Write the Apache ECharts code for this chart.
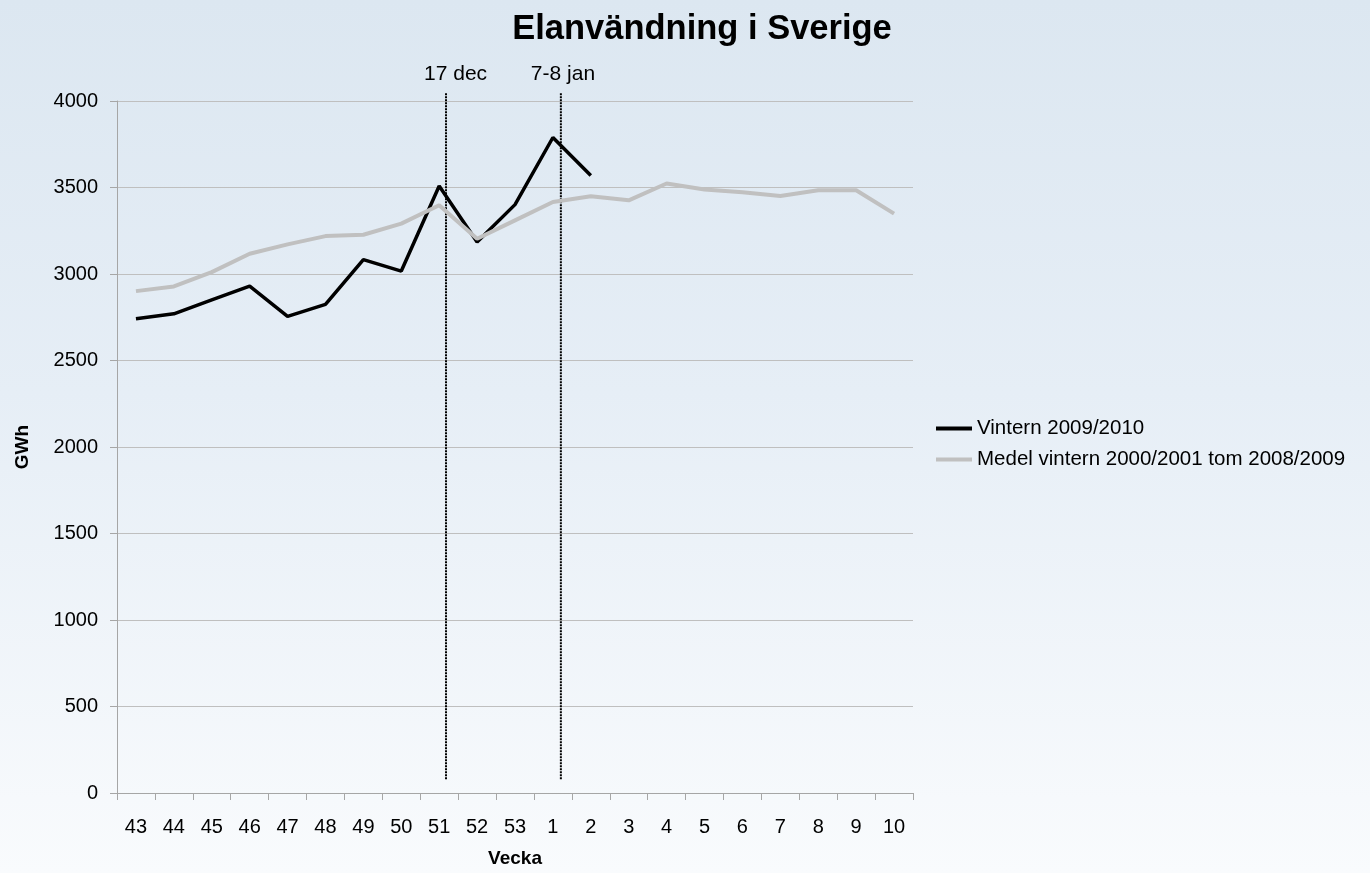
<!DOCTYPE html>
<html>
<head>
<meta charset="utf-8">
<script src="https://cdn.jsdelivr.net/npm/echarts@6/dist/echarts.min.js"></script>
<style>
html,body{margin:0;padding:0;}
#chart{width:1370px;height:873px;background:linear-gradient(to bottom,#dce7f1 0%,#e6eef6 45%,#f9fbfd 100%);}
</style>
</head>
<body>
<div id="chart"></div>
<script>
const weeks = ['43','44','45','46','47','48','49','50','51','52','53','1','2','3','4','5','6','7','8','9','10'];
const winter2009 = [2741,2770,2851,2930,2755,2824,3083,3017,3509,3185,3401,3789,3569,null,null,null,null,null,null,null,null];
const average2000to2009 = [2901,2928,3011,3117,3171,3219,3227,3291,3397,3204,3310,3416,3449,3426,3523,3488,3472,3451,3484,3484,3349];
const eventLabels = ['17 dec','7-8 jan'];
const eventPositions = [8.68, 11.71]; // position in category-width units from the left edge
const eventRange = [80, 4045];
const titleText = 'Elanvändning i Sverige';
const seriesNames = ['Vintern 2009/2010','Medel vintern 2000/2001 tom 2008/2009'];

const font = 'Liberation Sans, Arial, sans-serif';
const labelOffsets = [[-30, -19], [-38, -19]];
const chart = echarts.init(document.getElementById('chart'));

const eventSeries = eventLabels.map((lab, i) => ({
  type: 'line',
  xAxisIndex: 1,
  yAxisIndex: 1,
  clip: false,
  silent: true,
  symbol: 'none',
  data: [[eventPositions[i], eventRange[0]], [eventPositions[i], eventRange[1]]],
  lineStyle: {color: '#000', width: 2, type: [2, 1]},
  label: {show: false},
  endLabel: {show: true, formatter: lab, color: '#000', fontFamily: font, fontSize: 21, offset: labelOffsets[i]},
  z: 1
}));

chart.setOption({
  animation: false,
  backgroundColor: 'transparent',
  title: {
    text: titleText, left: 697, top: 7, textAlign: 'center',
    textStyle: {fontFamily: font, fontSize: 34.5, fontWeight: 'bold', color: '#000'}
  },
  legend: {
    orient: 'vertical', left: 931, top: 413, itemWidth: 36, itemHeight: 4, itemGap: 10,
    icon: 'rect',
    data: seriesNames,
    textStyle: {fontFamily: font, fontSize: 20.5, color: '#000'}
  },
  grid: {left: 117, right: 457, top: 101, bottom: 80, containLabel: false, outerBoundsMode: 'none'},
  xAxis: [{
    type: 'category', data: weeks, boundaryGap: true,
    name: 'Vecka', nameLocation: 'middle', nameGap: 56,
    nameTextStyle: {fontFamily: font, fontSize: 19, fontWeight: 'bold', color: '#000'},
    axisLine: {lineStyle: {color: '#a6a6a6', width: 1}},
    axisTick: {show: true, length: 7, alignWithLabel: false, lineStyle: {color: '#a6a6a6'}},
    axisLabel: {fontFamily: font, fontSize: 20, color: '#000', margin: 24, interval: 0},
    splitLine: {show: false}
  }, {
    type: 'value', min: 0, max: 21, show: false
  }],
  yAxis: [{
    type: 'value', min: 0, max: 4000, interval: 500,
    name: 'GWh', nameLocation: 'middle', nameGap: 85, nameRotate: 90,
    nameTextStyle: {fontFamily: font, fontSize: 19, fontWeight: 'bold', color: '#000'},
    axisLine: {show: true, lineStyle: {color: '#a6a6a6', width: 1}},
    axisTick: {show: true, length: 7, lineStyle: {color: '#a6a6a6'}},
    axisLabel: {fontFamily: font, fontSize: 20, color: '#000', margin: 19, formatter: v => String(v)},
    splitLine: {show: true, lineStyle: {color: '#bfbfbf', width: 1}}
  }, {
    type: 'value', min: 0, max: 4000, show: false
  }],
  series: [{
    name: seriesNames[0], type: 'line', data: winter2009, symbol: 'none', connectNulls: false,
    itemStyle: {color: '#000'},
    lineStyle: {color: '#000', width: 3.5}, z: 3
  }, {
    name: seriesNames[1], type: 'line', data: average2000to2009, symbol: 'none',
    itemStyle: {color: '#c0c0c0'},
    lineStyle: {color: '#c0c0c0', width: 4}, z: 4
  }].concat(eventSeries)
});
</script>
</body>
</html>
